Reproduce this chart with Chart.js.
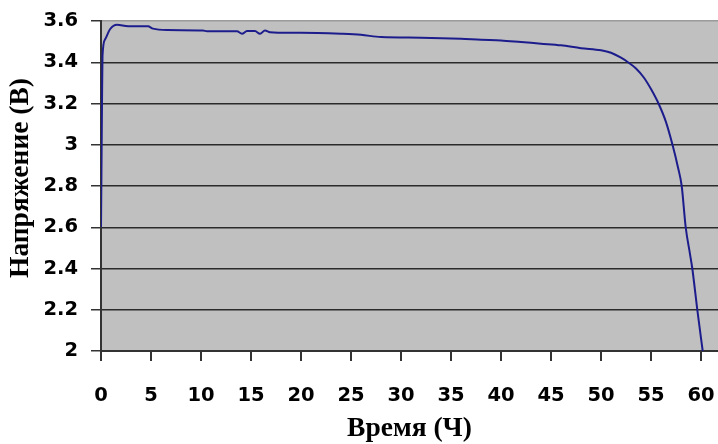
<!DOCTYPE html>
<html>
<head>
<meta charset="utf-8">
<script src="https://cdn.jsdelivr.net/npm/chart.js@4.4.1/dist/chart.umd.min.js"></script>
<style>
  html, body { margin: 0; padding: 0; background: #fff; }
  #wrap { width: 718px; height: 444px; }
</style>
</head>
<body>
<div id="wrap"><canvas id="chartVoltage"></canvas></div>
<script>
    'use strict';

    // Discharge curve: time (h) vs voltage (V)
    var hours = [0, 0.05, 0.1, 0.15, 0.4, 0.9, 1.6, 2.7, 4.7, 5.2, 6.6, 10.2, 10.6, 13.6, 14.1, 14.6,
        15.4, 15.9, 16.4, 16.9, 18.9, 20, 24, 26, 28, 32, 36, 38, 40, 42, 44, 46, 48, 50, 51,
        52, 52.7, 53.5, 54.3, 55, 55.75, 56.5, 57.15, 57.7, 58.07, 58.47, 58.9, 59.13, 59.63, 60.17];
    var volts = [2.6, 2.9, 3.2, 3.43, 3.51, 3.56, 3.582, 3.575, 3.574, 3.563, 3.556, 3.554, 3.55, 3.55, 3.538, 3.551,
        3.551, 3.538, 3.554, 3.546, 3.543, 3.543, 3.538, 3.533, 3.522, 3.519, 3.514, 3.509, 3.506, 3.498, 3.49, 3.482,
        3.468, 3.458, 3.446, 3.422, 3.4, 3.37, 3.325, 3.27, 3.2, 3.11, 3.0, 2.89, 2.8, 2.6, 2.47, 2.4, 2.2, 2.0];
    var xTicks = [0, 5, 10, 15, 20, 25, 30, 35, 40, 45, 50, 55, 60];
    var yTicks = [2, 2.2, 2.4, 2.6, 2.8, 3, 3.2, 3.4, 3.6];
    var yTitle = 'Напряжение (В)';
    var xTitle = 'Время (Ч)';

    var tickFont = { family: 'DejaVu Sans', size: 19.5, weight: 'bold' };
    var titleFont = { family: 'Liberation Serif', size: 27.5, weight: 'bold', lineHeight: 1 };

    var plotBg = {
        id: 'plotBg',
        beforeDraw: function (chart) {
            var a = chart.chartArea, ctx = chart.ctx;
            ctx.save();
            ctx.fillStyle = '#c0c0c0';
            ctx.fillRect(a.left, a.top, a.right - a.left, a.bottom - a.top);
            ctx.restore();
        }
    };

    // y title sits a little above the plot centre in the original
    var yTitlePlugin = {
        id: 'yTitle',
        afterDraw: function (chart) {
            var a = chart.chartArea, ctx = chart.ctx;
            ctx.save();
            ctx.translate(20.5, (a.top + a.bottom) / 2 - 8);
            ctx.rotate(-Math.PI / 2);
            ctx.font = 'bold ' + titleFont.size + 'px "' + titleFont.family + '"';
            ctx.fillStyle = '#000';
            ctx.textAlign = 'center';
            ctx.textBaseline = 'middle';
            ctx.fillText(yTitle, 0, 0);
            ctx.restore();
        }
    };

    var points = hours.map(function (t, i) { return { x: t, y: volts[i] }; });

    new Chart(document.getElementById('chartVoltage'), {
        type: 'line',
        data: {
            datasets: [{
                data: points,
                borderColor: '#1c1c8c',
                borderWidth: 2,
                pointRadius: 0,
                fill: false,
                cubicInterpolationMode: 'monotone'
            }]
        },
        options: {
            responsive: true,
            maintainAspectRatio: false,
            animation: false,
            layout: { padding: { top: 21, right: 0, left: 0, bottom: 0 } },
            plugins: {
                legend: { display: false },
                tooltip: { enabled: false }
            },
            scales: {
                x: {
                    type: 'linear',
                    min: 0,
                    max: 61.7,
                    afterFit: function (s) {
                        s.height = 93;
                        s.paddingLeft = 0;
                        s.paddingRight = 0;
                    },
                    afterBuildTicks: function (s) { s.ticks = xTicks.map(function (v) { return { value: v }; }); },
                    ticks: { font: tickFont, color: '#000', padding: 23, maxRotation: 0 },
                    grid: { drawOnChartArea: false, drawTicks: true, tickLength: 10, tickColor: '#333', lineWidth: 2 },
                    border: { display: true, color: '#333', width: 2 },
                    title: {
                        display: true,
                        text: xTitle,
                        font: titleFont,
                        color: '#000',
                        padding: { top: 0, bottom: 1.5 }
                    }
                },
                y: {
                    min: 2,
                    max: 3.6,
                    afterFit: function (s) {
                        s.width = 101;
                        s.paddingTop = 0;
                        s.paddingBottom = 0;
                    },
                    afterBuildTicks: function (s) { s.ticks = yTicks.map(function (v) { return { value: v }; }); },
                    ticks: {
                        font: tickFont,
                        color: '#000',
                        padding: 13,
                        callback: function (v) { return String(Number(v.toFixed(1))); }
                    },
                    grid: {
                        color: function (c) { return c.tick && c.tick.value === 3.6 ? '#9a9a9a' : '#2a2a2a'; },
                        lineWidth: 1.5,
                        tickLength: 10,
                        tickColor: '#333'
                    },
                    border: { display: true, color: '#333', width: 2 },
                    title: { display: false }
                }
            }
        },
        plugins: [plotBg, yTitlePlugin]
    });
</script>
</body>
</html>
